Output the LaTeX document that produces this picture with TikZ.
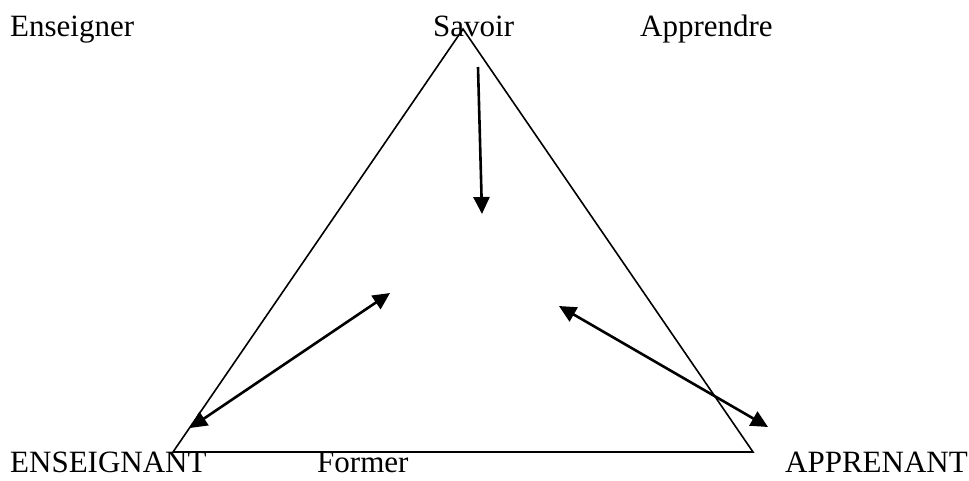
\documentclass[tikz,border=0pt]{standalone}
\usepackage{fontspec}
\setmainfont{Liberation Serif}
\usetikzlibrary{arrows.meta}
\begin{document}
\begin{tikzpicture}[x=1pt,y=-1pt,
  lbl/.style={inner sep=0pt,anchor=base west,font=\fontsize{31}{36}\selectfont},
  lowlbl/.style={lbl,text depth=0pt},
  edge/.style={line width=1.6pt},
  arr/.style={line width=2.6pt,-{Triangle[length=17pt,width=16pt]}},
  darr/.style={line width=2.6pt,{Triangle[length=17pt,width=16pt]}-{Triangle[length=17pt,width=16pt]}}]
\useasboundingbox (0,0) rectangle (969,480);
\coordinate (top) at (463,29);
\coordinate (bl) at (173,452);
\coordinate (br) at (753,452);
\draw[edge] (top) -- (bl) -- (br) -- cycle;
\node[lbl] (ens) at (10,36) {Enseigner};
\node[lbl] (sav) at (433,36) {Savoir};
\node[lbl] (app) at (640,36) {Apprendre};
\node[lowlbl] (ensg) at (10,472) {ENSEIGNANT};
\node[lowlbl] (for) at (317,472) {Former};
\node[lowlbl] (appr) at (785,472) {APPRENANT};
\coordinate (a1) at (478,67);
\coordinate (a2) at (482,214);
\draw[arr] (a1) -- (a2);
\coordinate (b1) at (190,428);
\coordinate (b2) at (390,293);
\draw[darr] (b1) -- (b2);
\coordinate (c1) at (559,306);
\coordinate (c2) at (768,427);
\draw[darr] (c1) -- (c2);
\end{tikzpicture}
\end{document}
